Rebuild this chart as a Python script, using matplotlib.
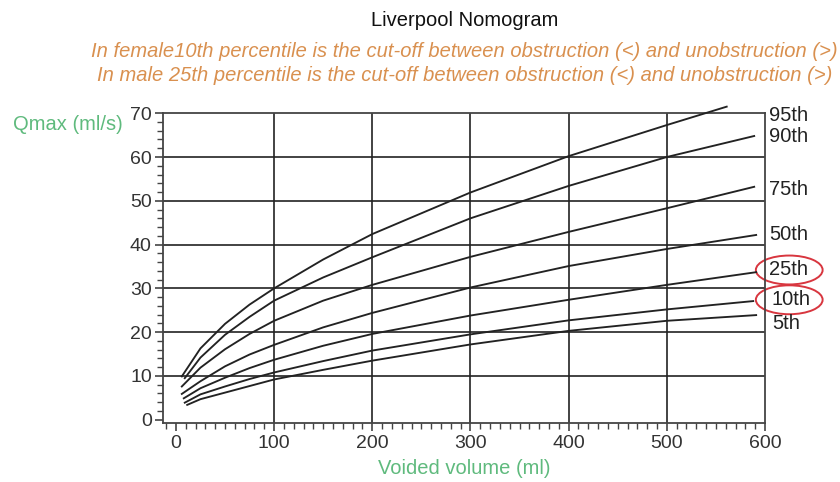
import matplotlib
matplotlib.use("Agg")
import matplotlib.pyplot as plt
from matplotlib.patches import Ellipse
from matplotlib.ticker import MultipleLocator

plt.rcParams['font.family'] = ['Liberation Sans', 'DejaVu Sans']

# значения (объём мл -> Qmax мл/с)
vol = [25, 50, 75, 100, 150, 200, 300, 400, 500]
p95 = [16.3, 21.9, 26.3, 30.0, 36.6, 42.4, 51.9, 60.2, 67.3]
p90 = [14.2, 19.4, 23.5, 27.2, 32.5, 37.1, 46.0, 53.4, 60.0]
p75 = [11.9, 16.1, 19.6, 22.6, 27.2, 30.8, 37.2, 42.9, 48.3]
p50 = [8.8, 12.2, 14.9, 17.1, 21.1, 24.4, 30.2, 35.1, 39.0]
p25 = [7.2, 9.6, 11.8, 13.7, 16.9, 19.6, 23.8, 27.4, 30.8]
p10 = [5.8, 7.6, 9.3, 10.8, 13.4, 15.8, 19.5, 22.7, 25.2]
p5 = [4.7, 6.2, 7.7, 9.2, 11.4, 13.5, 17.2, 20.3, 22.6]

# начало и конец каждой кривой
starts = {'95th': (6, 9.9), '90th': (9, 9.5), '75th': (6, 7.6), '50th': (6, 5.9),
          '25th': (8, 4.9), '10th': (9, 3.9), '5th': (11.5, 3.4)}
ends = {'95th': (561, 71.5), '90th': (589, 64.8), '75th': (589, 53.2), '50th': (591, 42.2),
        '25th': (591, 33.7), '10th': (588, 27.1), '5th': (591, 23.9)}
curves = {'95th': p95, '90th': p90, '75th': p75, '50th': p50, '25th': p25, '10th': p10, '5th': p5}

# подписи справа (позиция по оси y)
label_y = {'95th': 69.4, '90th': 64.6, '75th': 52.5, '50th': 42.2, '25th': 34.2, '10th': 27.4, '5th': 22.0}
circled = ['25th', '10th']

x_grid = [100, 200, 300, 400, 500]
y_grid = [10, 20, 30, 40, 50, 60]

orange = '#d9904f'
green = '#5fba7d'
dark = '#222222'

fig = plt.figure(figsize=(8.4, 4.82), dpi=100)
ax = fig.add_axes([0.194, 0.1214, 0.7167, 0.6437])

for v in x_grid:
    ax.axvline(v, color=dark, lw=1.2, zorder=1)
for v in y_grid:
    ax.axhline(v, color=dark, lw=1.2, zorder=1)

for name, vals in curves.items():
    xs = [starts[name][0]] + vol + [ends[name][0]]
    ys = [starts[name][1]] + vals + [ends[name][1]]
    ax.plot(xs, ys, color=dark, lw=1.35, clip_on=False, zorder=3)
    tx = 607 if name in ['10th', '5th'] else 604
    ax.text(tx, label_y[name], name, fontsize=14.5, color=dark, va='center', ha='left', clip_on=False)

for name in circled:
    e = Ellipse((624.7, label_y[name]), 68, 6.6, fill=False, edgecolor='#d8363f', lw=1.4, clip_on=False)
    ax.add_patch(e)

ax.set_xlim(-13.2, 600)
ax.set_ylim(-0.85, 70)
ax.xaxis.set_major_locator(MultipleLocator(100))
ax.xaxis.set_minor_locator(MultipleLocator(10))
ax.yaxis.set_major_locator(MultipleLocator(10))
ax.yaxis.set_minor_locator(MultipleLocator(2))
ax.tick_params(which='major', length=6, width=1.2, color='#444444', labelsize=14, labelcolor='#333333', pad=2)
ax.tick_params(which='minor', length=4, width=1.0, color='#444444')
for s in ax.spines.values():
    s.set_color('#444444')
    s.set_linewidth(1.3)

fig.text(0.553, 0.958, 'Liverpool Nomogram', ha='center', va='center', fontsize=14.5, color='#111111')
fig.text(0.553, 0.894, 'In female10th percentile is the cut-off between obstruction (<) and unobstruction (>)',
         ha='center', va='center', fontsize=14.5, color=orange, style='italic')
fig.text(0.553, 0.843, 'In male 25th percentile is the cut-off between obstruction (<) and unobstruction (>)',
         ha='center', va='center', fontsize=14.5, color=orange, style='italic')
fig.text(0.016, 0.742, 'Qmax (ml/s)', ha='left', va='center', fontsize=14.5, color=green)
fig.text(0.553, 0.027, 'Voided volume (ml)', ha='center', va='center', fontsize=14.5, color=green)

fig.savefig('out.png', dpi=100)
